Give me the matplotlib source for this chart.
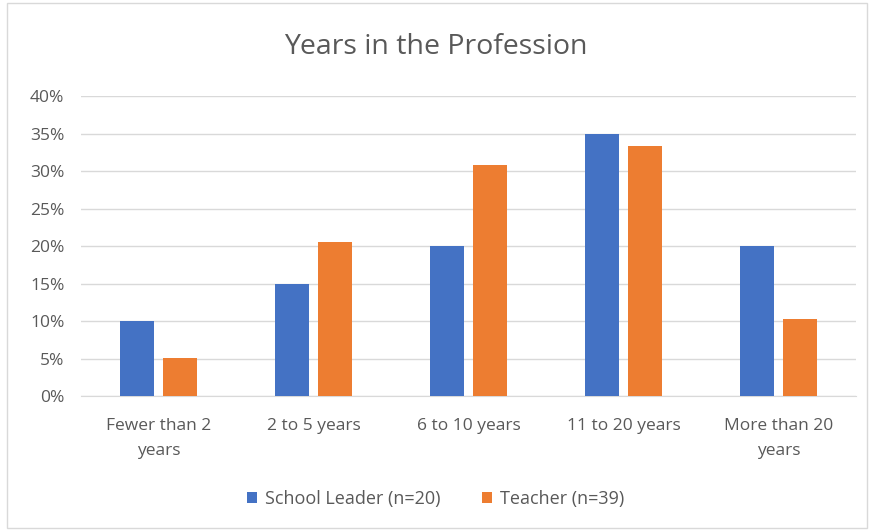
import matplotlib.pyplot as plt
import numpy as np
from matplotlib.patches import Rectangle
from matplotlib.ticker import PercentFormatter

plt.rcParams['font.family'] = ['Open Sans', 'DejaVu Sans']

# data
categories = ['Fewer than 2\nyears', '2 to 5 years', '6 to 10 years',
              '11 to 20 years', 'More than 20\nyears']
leader = [10.0, 15.0, 20.0, 35.0, 20.0]
teacher = [5.1, 20.5, 30.8, 33.3, 10.3]
series_names = ['School Leader (n=20)', 'Teacher (n=39)']

fig = plt.figure(figsize=(8.72, 5.31), dpi=100)
ax = fig.add_axes([0.0929, 0.254, 0.889, 0.565])

x = np.arange(len(categories))
w = 0.222
ax.bar(x - 0.139, leader, width=w, color='#4472C4', label=series_names[0], zorder=3)
ax.bar(x + 0.139, teacher, width=w, color='#ED7D31', label=series_names[1], zorder=3)

ax.set_xlim(-0.5, 4.5)
ax.set_ylim(0, 40)
ax.set_yticks(np.arange(0, 41, 5))
ax.yaxis.set_major_formatter(PercentFormatter(decimals=0))
ax.grid(axis='y', color='#D9D9D9', linewidth=1, zorder=0)
for s in ['top', 'right', 'left']:
    ax.spines[s].set_visible(False)
ax.spines['bottom'].set_color('#D9D9D9')
ax.set_xticks(x)
ax.set_xticklabels(categories, linespacing=1.75)
ax.tick_params(axis='both', length=0, colors='#595959', labelsize=12.5)
ax.tick_params(axis='x', pad=16)
ax.tick_params(axis='y', pad=12)

fig.text(0.5, 0.911, 'Years in the Profession', ha='center', va='center',
         fontsize=20.5, color='#595959')

fig.legend(loc='center', bbox_to_anchor=(0.5, 0.061), ncol=2, frameon=False,
           fontsize=13, handlelength=0.55, handleheight=0.55, columnspacing=2.3,
           handletextpad=0.45, labelcolor='#595959')

fig.patches.append(Rectangle((0.008, 0.006), 0.986, 0.988, transform=fig.transFigure,
                             fill=False, edgecolor='#D9D9D9', linewidth=1))

fig.savefig('out.png', dpi=100)
